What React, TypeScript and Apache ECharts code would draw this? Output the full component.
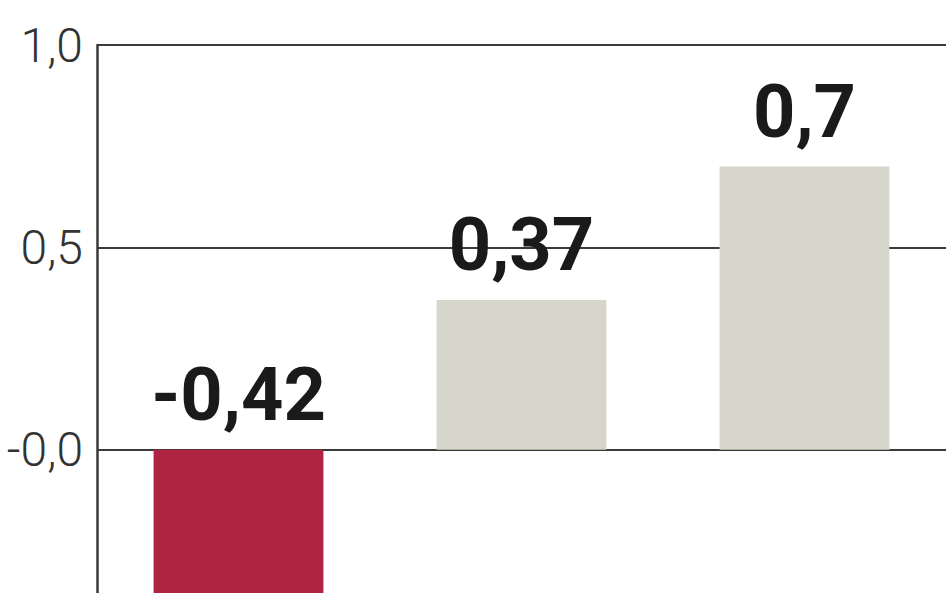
import React, { useEffect, useRef } from "react";
import * as echarts from "echarts";

const categories = ["A", "B", "C"];
const values = [-0.42, 0.37, 0.7];
const barColors = ["#af2442", "#d6d6ca", "#d6d6ca"];
const valueLabels = ["-0,42", "0,37", "0,7"];
const yTickValues = [1, 0.5, 0];
const yTickLabels = ["1,0", "0,5", "-0,0"];

export default function App() {
  const ref = useRef<HTMLDivElement>(null);
  useEffect(() => {
    if (!ref.current) return;
    const chart = echarts.init(ref.current, null, { renderer: "svg" });
    chart.setOption({
      animation: false,
      backgroundColor: "#ffffff",
      grid: { left: 97, right: 2, top: 45, bottom: 0, containLabel: false },
      xAxis: {
        type: "category",
        data: categories,
        axisLine: { show: false },
        axisTick: { show: false },
        axisLabel: { show: false },
        splitLine: { show: false },
      },
      yAxis: {
        type: "value",
        min: -0.5,
        max: 1,
        interval: 0.5,
        axisLine: { show: true, lineStyle: { color: "#3a3a3a", width: 2.5 } },
        axisTick: { show: false },
        splitLine: { show: true, lineStyle: { color: "#3a3a3a", width: 2 } },
        axisLabel: {
          margin: 14,
          fontFamily: "Roboto",
          fontWeight: 300,
          fontSize: 48,
          color: "#333333",
          formatter: (v: number) => {
            const i = yTickValues.findIndex((t) => Math.abs(t - v) < 1e-9);
            return i >= 0 ? yTickLabels[i] : "";
          },
        },
      },
      series: [
        {
          type: "bar",
          barWidth: "60%",
          data: values.map((v, i) => ({ value: v, itemStyle: { color: barColors[i] } })),
          label: {
            show: true,
            position: "top",
            distance: 18,
            fontFamily: "Roboto",
            fontWeight: "bold",
            fontSize: 74,
            color: "#1a1a1a",
            formatter: (p: any) => valueLabels[p.dataIndex],
          },
        },
      ],
    });
    return () => chart.dispose();
  }, []);
  return (
    <div
      style={{
        position: "fixed",
        left: 0,
        top: 0,
        width: 948,
        height: 593,
        overflow: "hidden",
        background: "#fff",
      }}
    >
      <div ref={ref} style={{ width: 948, height: 652 }} />
    </div>
  );
}
